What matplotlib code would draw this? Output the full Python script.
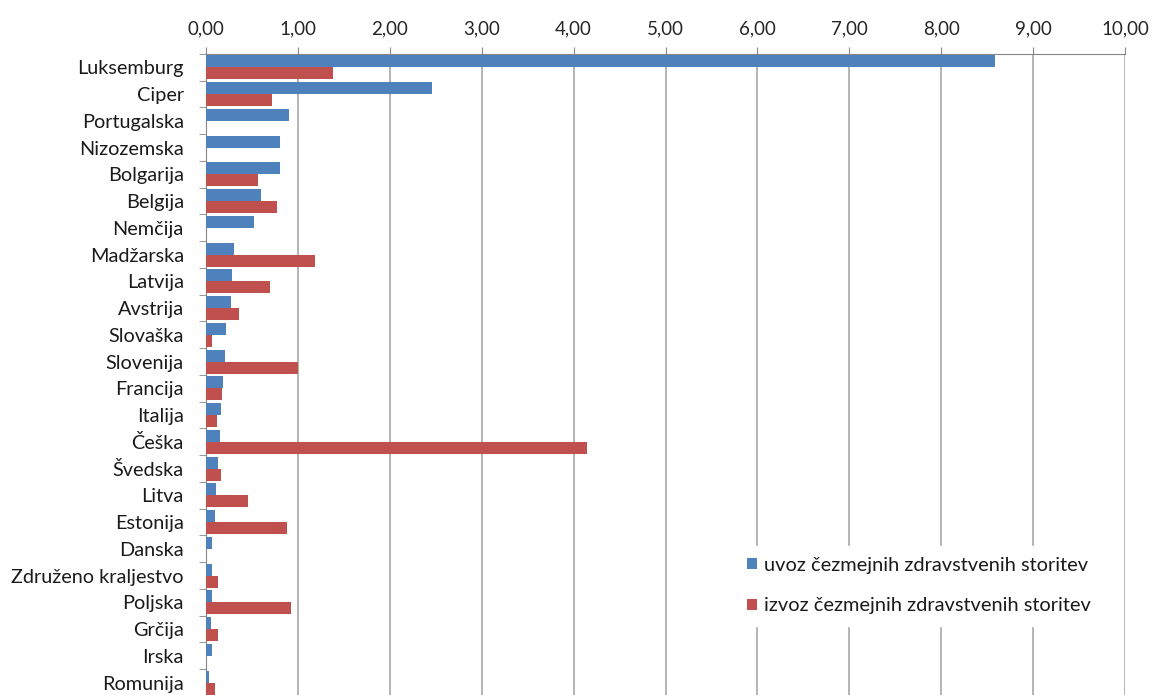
import numpy as np
import matplotlib.pyplot as plt
from matplotlib.ticker import FuncFormatter, FixedLocator

plt.rcParams['font.family'] = ['Lato', 'DejaVu Sans']

countries = ['Luksemburg', 'Ciper', 'Portugalska', 'Nizozemska', 'Bolgarija',
             'Belgija', 'Nemčija', 'Madžarska', 'Latvija', 'Avstrija',
             'Slovaška', 'Slovenija', 'Francija', 'Italija', 'Češka',
             'Švedska', 'Litva', 'Estonija', 'Danska', 'Združeno kraljestvo',
             'Poljska', 'Grčija', 'Irska', 'Romunija']

# uvoz (import) of cross-border health services
uvoz = [8.58, 2.46, 0.90, 0.80, 0.80, 0.60, 0.52, 0.30, 0.28, 0.27,
        0.22, 0.21, 0.18, 0.16, 0.15, 0.13, 0.11, 0.10, 0.07, 0.07,
        0.07, 0.05, 0.06, 0.03]
# izvoz (export)
izvoz = [1.38, 0.72, 0.0, 0.0, 0.57, 0.77, 0.0, 1.19, 0.70, 0.36,
         0.07, 1.00, 0.17, 0.12, 4.15, 0.16, 0.46, 0.88, 0.0, 0.13,
         0.93, 0.13, 0.0, 0.10]

labels = ['uvoz čezmejnih zdravstvenih storitev',
          'izvoz čezmejnih zdravstvenih storitev']

fig = plt.figure(figsize=(11.52, 6.95), dpi=100)
ax = fig.add_axes([206 / 1152, 1 - 696 / 695, (1125 - 206) / 1152, (696 - 54) / 695])

y = np.arange(len(countries))
h = 0.45
ax.barh(y - h / 2, uvoz, height=h, color='#4f81bd', label=labels[0], zorder=3)
ax.barh(y + h / 2, izvoz, height=h, color='#c0504d', label=labels[1], zorder=3)

ax.set_ylim(len(countries) - 0.5, -0.5)
ax.set_xlim(0, 10)

# value axis on top, Excel style
ax.xaxis.tick_top()
ax.set_xticks(np.arange(0, 11, 1))
ax.xaxis.set_major_formatter(FuncFormatter(lambda v, p: ('%.2f' % v).replace('.', ',')))
ax.tick_params(axis='x', length=5, color='#868686', labelsize=13.5, pad=7,
               labelcolor='#262626')
ax.grid(axis='x', color='#a0a0a0', linewidth=1.1, zorder=0)

ax.set_yticks(y)
ax.set_yticklabels(countries)
ax.yaxis.set_minor_locator(FixedLocator(np.arange(-0.5, len(countries), 1)))
ax.tick_params(axis='y', which='major', length=0, labelsize=14.3, pad=16,
               labelcolor='#1a1a1a')
ax.tick_params(axis='y', which='minor', length=5, color='#868686')

for s in ['right', 'bottom']:
    ax.spines[s].set_visible(False)
for s in ['top', 'left']:
    ax.spines[s].set_color('#868686')

leg = ax.legend(loc='upper left', bbox_to_anchor=(0.566, 0.25), frameon=True,
                fancybox=False, edgecolor='white', framealpha=1,
                fontsize=14.4, handlelength=0.5, handleheight=0.5,
                handletextpad=0.35, labelspacing=1.2, borderpad=0.55)
for t in leg.get_texts():
    t.set_color('#1a1a1a')

fig.savefig('out.png', dpi=100)
